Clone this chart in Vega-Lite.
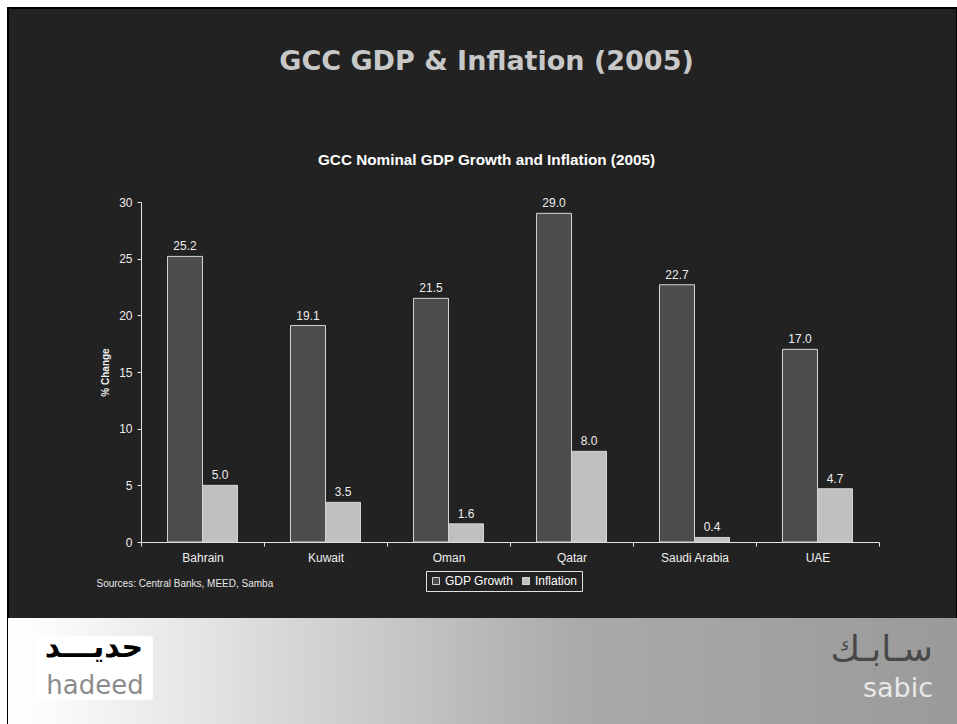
{
  "$schema": "https://vega.github.io/schema/vega-lite/v6.json",
  "width": 949,
  "height": 716,
  "autosize": {"type": "none"},
  "padding": {"left": 8, "top": 8, "right": 0, "bottom": 0},
  "background": "#ffffff",
  "config": {
    "view": {"fill": "#222222", "stroke": "#000000", "strokeWidth": 2},
    "font": "Liberation Sans"
  },
  "title": {
    "text": "GCC GDP & Inflation (2005)",
    "subtitle": "GCC Nominal GDP Growth and Inflation (2005)",
    "anchor": "middle",
    "frame": "group",
    "orient": "top",
    "offset": 0,
    "dx": 4,
    "dy": 161,
    "font": "DejaVu Sans",
    "fontSize": 27,
    "fontWeight": "bold",
    "color": "#c8c8c8",
    "subtitleFont": "Liberation Sans",
    "subtitleFontSize": 15.3,
    "subtitleFontWeight": "bold",
    "subtitleColor": "#ffffff",
    "subtitlePadding": 77
  },
  "datasets": {
    "gcc": [
      {"country": "Bahrain", "series": "GDP Growth", "value": 25.2},
      {"country": "Bahrain", "series": "Inflation", "value": 5.0},
      {"country": "Kuwait", "series": "GDP Growth", "value": 19.1},
      {"country": "Kuwait", "series": "Inflation", "value": 3.5},
      {"country": "Oman", "series": "GDP Growth", "value": 21.5},
      {"country": "Oman", "series": "Inflation", "value": 1.6},
      {"country": "Qatar", "series": "GDP Growth", "value": 29.0},
      {"country": "Qatar", "series": "Inflation", "value": 8.0},
      {"country": "Saudi Arabia", "series": "GDP Growth", "value": 22.7},
      {"country": "Saudi Arabia", "series": "Inflation", "value": 0.4},
      {"country": "UAE", "series": "GDP Growth", "value": 17.0},
      {"country": "UAE", "series": "Inflation", "value": 4.7}
    ],
    "footer": [{"part": "footer"}],
    "logos": [
      {"logo": "hadeed", "line": "arabic", "text": "حديـــد"},
      {"logo": "hadeed", "line": "latin", "text": "hadeed"},
      {"logo": "sabic", "line": "arabic", "text": "سـابـك"},
      {"logo": "sabic", "line": "latin", "text": "sabic"}
    ]
  },
  "layer": [
    {
      "data": {"name": "footer"},
      "mark": {
        "type": "rect",
        "color": {
          "gradient": "linear",
          "x1": 0, "y1": 0, "x2": 1, "y2": 0,
          "stops": [
            {"offset": 0, "color": "#ffffff"},
            {"offset": 0.05, "color": "#fafafa"},
            {"offset": 0.33, "color": "#d2d2d2"},
            {"offset": 0.6, "color": "#aaaaaa"},
            {"offset": 1, "color": "#9a9a9a"}
          ]
        }
      },
      "encoding": {
        "y": {"field": "part", "type": "nominal", "scale": {"domain": ["footer"], "range": [610, 716], "paddingInner": 0, "paddingOuter": 0}, "axis": null}
      }
    },
    {
      "data": {"name": "logos"},
      "transform": [{"filter": "datum.logo == 'hadeed'"}],
      "mark": {"type": "rect", "color": "#ffffff", "width": 117, "height": 63},
      "encoding": {
        "x": {"field": "logo", "type": "nominal", "scale": {"type": "point", "domain": ["hadeed", "sabic"], "range": [86, 925], "padding": 0}, "axis": null},
        "y": {"field": "logo", "type": "nominal", "scale": {"type": "point", "domain": ["hadeed"], "range": [660, 660], "padding": 0}, "axis": null}
      }
    },
    {
      "data": {"name": "logos"},
      "transform": [{"filter": "datum.logo == 'hadeed' && datum.line == 'arabic'"}],
      "mark": {"type": "text", "font": "DejaVu Sans", "fontSize": 30, "fontWeight": "bold", "color": "#000000", "align": "center", "baseline": "middle"},
      "encoding": {
        "x": {"field": "logo", "type": "nominal", "scale": {"type": "point", "domain": ["hadeed", "sabic"], "range": [86, 925], "padding": 0}, "axis": null},
        "y": {"field": "line", "type": "nominal", "scale": {"type": "point", "domain": ["arabic", "latin"], "range": [640, 686], "padding": 0}, "axis": null},
        "text": {"field": "text"}
      }
    },
    {
      "data": {"name": "logos"},
      "transform": [{"filter": "datum.logo == 'hadeed' && datum.line == 'latin'"}],
      "mark": {"type": "text", "font": "DejaVu Sans", "fontSize": 26, "color": "#8c8c8c", "align": "center", "baseline": "alphabetic"},
      "encoding": {
        "x": {"field": "logo", "type": "nominal", "scale": {"type": "point", "domain": ["hadeed", "sabic"], "range": [87, 925], "padding": 0}, "axis": null},
        "y": {"field": "line", "type": "nominal", "scale": {"type": "point", "domain": ["arabic", "latin"], "range": [642, 686], "padding": 0}, "axis": null},
        "text": {"field": "text"}
      }
    },
    {
      "data": {"name": "logos"},
      "transform": [{"filter": "datum.logo == 'sabic' && datum.line == 'arabic'"}],
      "mark": {"type": "text", "font": "DejaVu Sans", "fontSize": 36, "color": "#484848", "align": "right", "baseline": "middle"},
      "encoding": {
        "x": {"field": "logo", "type": "nominal", "scale": {"type": "point", "domain": ["hadeed", "sabic"], "range": [86, 925], "padding": 0}, "axis": null},
        "y": {"field": "line", "type": "nominal", "scale": {"type": "point", "domain": ["arabic", "latin"], "range": [642, 689], "padding": 0}, "axis": null},
        "text": {"field": "text"}
      }
    },
    {
      "data": {"name": "logos"},
      "transform": [{"filter": "datum.logo == 'sabic' && datum.line == 'latin'"}],
      "mark": {"type": "text", "font": "DejaVu Sans", "fontSize": 27, "color": "#e8e8e8", "align": "right", "baseline": "alphabetic"},
      "encoding": {
        "x": {"field": "logo", "type": "nominal", "scale": {"type": "point", "domain": ["hadeed", "sabic"], "range": [86, 925], "padding": 0}, "axis": null},
        "y": {"field": "line", "type": "nominal", "scale": {"type": "point", "domain": ["arabic", "latin"], "range": [644, 689], "padding": 0}, "axis": null},
        "text": {"field": "text"}
      }
    },
    {
      "data": {"name": "gcc"},
      "encoding": {
        "x": {
          "field": "country", "type": "nominal", "sort": null,
          "scale": {"range": [133, 871], "paddingInner": 0, "paddingOuter": 0},
          "axis": {
            "title": "Sources:  Central Banks, MEED, Samba",
            "titleX": 88, "titleY": 44.5,
            "titleAlign": "left", "titleBaseline": "alphabetic", "titleAngle": 0,
            "titleFont": "Liberation Sans", "titleFontSize": 10, "titleFontWeight": "normal", "titleColor": "#e6e6e6",
            "offset": -182,
            "domainColor": "#e6e6e6", "tickColor": "#e6e6e6", "tickSize": 4, "tickBand": "extent",
            "labelColor": "#eeeeee", "labelFont": "Liberation Sans", "labelFontSize": 12, "labelPadding": 6, "labelAngle": 0,
            "grid": false
          }
        },
        "xOffset": {"field": "series", "type": "nominal", "sort": null, "scale": {"paddingInner": 0, "paddingOuter": 0.757}},
        "y": {
          "field": "value", "type": "quantitative",
          "scale": {"domain": [0, 30], "range": [534, 194], "nice": false},
          "axis": {
            "title": "% Change",
            "titleFont": "Liberation Sans", "titleFontSize": 10, "titleFontWeight": "bold", "titleColor": "#eeeeee", "titlePadding": 8,
            "offset": -133,
            "domainColor": "#e6e6e6", "tickColor": "#e6e6e6", "tickSize": 4,
            "labelColor": "#eeeeee", "labelFont": "Liberation Sans", "labelFontSize": 12, "labelPadding": 5,
            "values": [0, 5, 10, 15, 20, 25, 30],
            "grid": false
          }
        }
      },
      "layer": [
        {
          "mark": {"type": "bar", "stroke": "#d4d4d4", "strokeWidth": 1},
          "encoding": {
            "color": {
              "field": "series", "type": "nominal", "sort": null,
              "scale": {"domain": ["GDP Growth", "Inflation"], "range": ["#4d4d4d", "#c0c0c0"]},
              "legend": {
                "title": null, "orient": "none", "legendX": 418, "legendY": 563, "direction": "horizontal",
                "symbolType": "square", "symbolSize": 49, "symbolStrokeColor": "#d4d4d4", "symbolStrokeWidth": 1, "symbolOpacity": 1,
                "labelFont": "Liberation Sans", "labelFontSize": 12, "labelColor": "#ffffff", "labelOffset": 3,
                "strokeColor": "#e0e0e0", "fillColor": "#222222", "padding": 4, "columnPadding": 6
              }
            }
          }
        },
        {
          "mark": {"type": "text", "dy": -6, "baseline": "alphabetic", "font": "Liberation Sans", "fontSize": 12, "color": "#eeeeee"},
          "encoding": {
            "text": {"field": "value", "type": "quantitative", "format": ".1f"}
          }
        }
      ]
    }
  ],
  "resolve": {
    "scale": {"x": "independent", "y": "independent"},
    "axis": {"x": "independent", "y": "independent"}
  }
}
